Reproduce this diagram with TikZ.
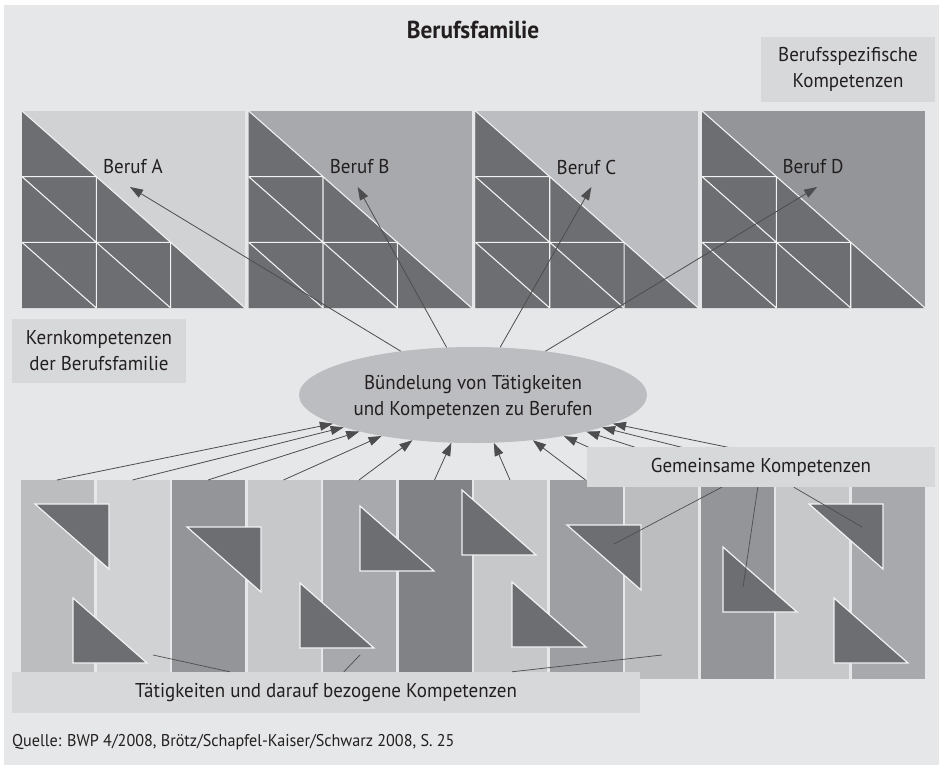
\documentclass[tikz,border=0pt]{standalone}
\usepackage{fontspec}
\setmainfont[FakeStretch=0.95]{PT Sans}
\usetikzlibrary{arrows.meta,shapes.geometric,calc}

\definecolor{bgc}{HTML}{E6E7E8}
\definecolor{boxc}{HTML}{D7D8DA}
\definecolor{darkc}{HTML}{6D6E71}
\definecolor{linec}{HTML}{4D4D4F}
\definecolor{txtc}{HTML}{231F20}
\definecolor{ellc}{HTML}{BCBDC0}
\definecolor{sqA}{HTML}{D1D2D4}
\definecolor{sqB}{HTML}{A7A9AC}
\definecolor{sqC}{HTML}{BCBDC0}
\definecolor{sqD}{HTML}{939598}
\definecolor{stA}{HTML}{BCBDBF}
\definecolor{stB}{HTML}{D1D2D4}
\definecolor{stC}{HTML}{939598}
\definecolor{stD}{HTML}{C7C8CA}
\definecolor{stE}{HTML}{A7A9AC}
\definecolor{stF}{HTML}{808285}
\definecolor{stG}{HTML}{9D9FA2}
\definecolor{edgec}{HTML}{F2F2F3}

\tikzset{
  lbl/.style={font=\fontsize{20}{26}\selectfont, text=txtc, align=center},
  labelbox/.style={lbl, fill=boxc, inner sep=0pt},
  gridline/.style={draw=edgec, line width=1.1pt},
  tri/.style={fill=darkc, draw=edgec, line width=1.2pt, line join=miter},
  arr/.style={draw=linec, line width=0.8pt, -{Triangle[length=13pt,width=9pt]}},
  conn/.style={draw=linec, line width=0.7pt},
  trTop/.style={insert path={-- ++(74,0) -- ++(0,65) -- cycle}},
  trBot/.style={insert path={-- ++(0,65) -- ++(74,0) -- cycle}}
}

\begin{document}
\begin{tikzpicture}[x=1pt,y=-1pt]
  \useasboundingbox (0,0) rectangle (939,765);
  \fill[white] (0,0) rectangle (939,765);
  \fill[bgc] (4,5) rectangle (939,765);

  % four occupation squares with the shared core staircase
  \foreach \i/\col/\tx in {0/sqA/108,1/sqB/109,2/sqC/116,3/sqD/115} {
    \pgfmathsetmacro\xa{22+226.7*\i}
    \begin{scope}[shift={(\xa,111)}]
      \fill[\col] (0,0) rectangle (223,197);
      \fill[darkc] (0,0) -- (0,197) -- (223,197) -- cycle;
      \draw[gridline] (0,0) -- (223,197);
      \draw[gridline]
        (0,65.67) -- (74.33,65.67)
        (0,131.33) -- (148.67,131.33)
        (74.33,65.67) -- (74.33,197)
        (148.67,131.33) -- (148.67,197)
        (0,65.67) -- (74.33,131.33)
        (0,131.33) -- (74.33,197)
        (74.33,131.33) -- (148.67,197);
      \coordinate (tip\i) at (\tx,76);
    \end{scope}
  }
  \node[lbl] (berufA) at (133,167) {Beruf A};
  \node[lbl] (berufB) at (359.7,167) {Beruf B};
  \node[lbl] (berufC) at (586.4,167) {Beruf C};
  \node[lbl] (berufD) at (813.1,167) {Beruf D};

  % activity stripes
  \foreach \i/\col in {0/stA,1/stB,2/stC,3/stD,4/stE,5/stF,6/stD,7/stG,8/stA,9/stC,10/stD,11/stE} {
    \fill[\col] (21+75.5*\i,480) rectangle ++(73,199);
    \coordinate (s\i) at (57+75.5*\i,480);
  }

  % competence triangles in the stripes
  \draw[tri] (35,504) [trTop];
  \draw[tri] (73,598) [trBot];
  \draw[tri] (187,527) [trTop];
  \draw[tri] (300,583) [trBot];
  \draw[tri] (360,506) [trBot];
  \draw[tri] (462,490) [trBot];
  \draw[tri] (512,582) [trBot];
  \draw[tri] (567,525) [trTop];
  \draw[tri] (723,547) [trBot];
  \draw[tri] (809,504) [trTop];
  \draw[tri] (834,598) [trBot];

  % bundling ellipse
  \node[ellipse, fill=ellc, minimum width=348pt, minimum height=96pt, inner sep=0pt] (ell) at (473,395) {};
  \node[lbl] (elltext) at (473,397) {Bündelung von Tätigkeiten\\und Kompetenzen zu Berufen};

  % arrows
  \foreach \i in {0,...,3} \draw[arr] (ell) -- (tip\i);
  \foreach \i in {0,...,11} \draw[arr] (s\i) -- (ell);

  % label boxes
  \node[labelbox, minimum width=174pt, minimum height=64pt] (kern) at (99,351) {Kernkompetenzen\\der Berufsfamilie};
  \node[labelbox, minimum width=174pt, minimum height=65pt] (spez) at (848,69.5) {Berufsspezifische\\Kompetenzen};
  \node[labelbox, minimum width=348pt, minimum height=40pt] (gbox) at (761,467) {Gemeinsame Kompetenzen};
  \node[labelbox, minimum width=628pt, minimum height=41pt] (tbox) at (326,692.5) {Tätigkeiten und darauf bezogene Kompetenzen};

  % pointer lines from the labels
  \coordinate (p1) at (153,655);
  \coordinate (p2) at (360,655);
  \coordinate (p3) at (662,655);
  \coordinate (q1) at (614,544);
  \coordinate (q2) at (743,587);
  \coordinate (q3) at (862,527);
  \draw[conn] ($(tbox.north west)+(218,0)$) -- (p1);
  \draw[conn] ($(tbox.north west)+(332,0)$) -- (p2);
  \draw[conn] ($(tbox.north west)+(500,0)$) -- (p3);
  \draw[conn] ($(gbox.south west)+(135,0)$) -- (q1);
  \draw[conn] ($(gbox.south west)+(171,0)$) -- (q2);
  \draw[conn] ($(gbox.south west)+(207,0)$) -- (q3);

  % title and source
  \node[font=\bfseries\fontsize{24.5}{28}\selectfont, text=txtc] (title) at (473,30) {Berufsfamilie};
  \node[anchor=west, inner sep=0pt, font=\fontsize{17}{20}\selectfont, text=txtc] (src) at (12,742) {Quelle: BWP 4/2008, Brötz/Schapfel-Kaiser/Schwarz 2008, S. 25};
\end{tikzpicture}
\end{document}
